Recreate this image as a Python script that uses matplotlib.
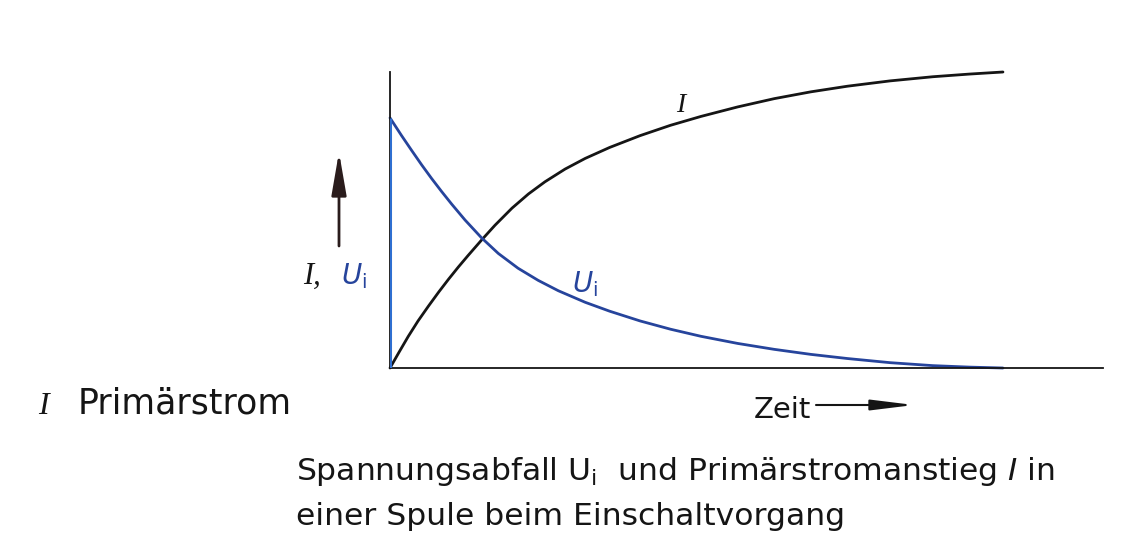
import matplotlib
matplotlib.use('Agg')
import matplotlib.pyplot as plt
from matplotlib.patches import FancyArrowPatch

plt.rcParams['font.family'] = ['DejaVu Sans']
plt.rcParams['mathtext.fontset'] = 'dejavusans'

# Werte (Zeit und Höhe in willkürlichen Einheiten)
zeit_I = [0, 0.15, 0.30, 0.46, 0.63, 0.80, 0.96, 1.12, 1.28, 1.50, 1.72, 2.00, 2.27,
          2.54, 2.87, 3.20, 3.60, 4.10, 4.60, 5.10, 5.70, 6.30, 6.90, 7.50, 8.20,
          8.90, 9.50, 10.05]
strom_I = [0, 0.054, 0.107, 0.159, 0.209, 0.257, 0.3, 0.341, 0.38, 0.432, 0.482,
           0.54, 0.588, 0.629, 0.672, 0.708, 0.745, 0.785, 0.82, 0.85, 0.882,
           0.91, 0.933, 0.952, 0.97, 0.984, 0.993, 1.0]

zeit_U = [0, 0.19, 0.355, 0.52, 0.683, 0.847, 1.01, 1.23, 1.50, 1.776, 2.10, 2.43,
          2.76, 3.20, 3.60, 4.10, 4.60, 5.10, 5.70, 6.30, 6.90, 7.50, 8.20, 8.90,
          9.50, 10.05]
spannung_U = [0.845, 0.785, 0.735, 0.686, 0.64, 0.596, 0.554, 0.5, 0.44, 0.387,
              0.337, 0.296, 0.261, 0.222, 0.192, 0.159, 0.131, 0.107, 0.083, 0.063,
              0.046, 0.032, 0.018, 0.008, 0.003, 0]

schwarz = '#151515'
blau = '#26449c'
blau_hell = '#2f6fd1'

W, H = 1135, 544
fig = plt.figure(figsize=(W / 100, H / 100), dpi=100)
ax = fig.add_axes([390 / W, 1 - 368 / H, 713 / W, 296 / H])
ax.set_xlim(0, 11.69)
ax.set_ylim(0, 1.0)
ax.set_xticks([])
ax.set_yticks([])
ax.patch.set_visible(False)
for s in ['top', 'right']:
    ax.spines[s].set_visible(False)
for s in ['left', 'bottom']:
    ax.spines[s].set_linewidth(1.3)
    ax.spines[s].set_color(schwarz)

ax.plot(zeit_I, strom_I, color=schwarz, lw=2.0, clip_on=False,
        solid_capstyle='round', solid_joinstyle='round')
ax.vlines(zeit_U[0], 0, spannung_U[0], color=blau_hell, lw=2.2, zorder=3)
ax.plot(zeit_U, spannung_U, color=blau, lw=2.0, clip_on=False,
        solid_capstyle='round', solid_joinstyle='round')


def px(x, y):
    return x / W, 1 - y / H


# Kurvenbeschriftungen
fig.text(*px(681, 106), 'I', family='Liberation Serif', style='italic', fontsize=20,
         color=schwarz, ha='center', va='center')
fig.text(*px(572, 284), r'$\mathit{U}_{\mathrm{i}}$', fontsize=20, color=blau,
         ha='left', va='center')

# Achsenbeschriftung links
fig.text(*px(303, 276), 'I,', family='Liberation Serif', style='italic', fontsize=22,
         color=schwarz, ha='left', va='center')
fig.text(*px(341, 276), r'$\mathit{U}_{\mathrm{i}}$', fontsize=20, color=blau,
         ha='left', va='center')
fig.add_artist(FancyArrowPatch(
    px(339, 246), px(339, 152), transform=fig.transFigure,
    arrowstyle='-|>,head_length=26,head_width=4.5', lw=2.0, color='#2a1c1c',
    mutation_scale=1.0, shrinkA=0, shrinkB=0))

# Zeitachse
fig.text(*px(754, 418), 'Zeit', fontsize=21, color=schwarz, ha='left', va='baseline')
fig.add_artist(FancyArrowPatch(
    px(816, 405), px(914, 405), transform=fig.transFigure,
    arrowstyle='-|>,head_length=26,head_width=3.2', lw=1.5, color=schwarz,
    mutation_scale=1.0, shrinkA=0, shrinkB=0))

# Legende
fig.text(*px(38, 414), 'I', family='Liberation Serif', style='italic', fontsize=23,
         color=schwarz, ha='left', va='baseline')
fig.text(*px(78, 414), 'Primärstrom', fontsize=25, color=schwarz, ha='left',
         va='baseline')

# Bildunterschrift
fig.text(*px(296, 480), r'Spannungsabfall U$_{\mathrm{i}}$  und Primärstromanstieg $I$ in',
         fontsize=22.6, color=schwarz, ha='left', va='baseline')
fig.text(*px(296, 525), 'einer Spule beim Einschaltvorgang', fontsize=22.6, color=schwarz,
         ha='left', va='baseline')

fig.savefig('out.png', dpi=100, facecolor='white')
